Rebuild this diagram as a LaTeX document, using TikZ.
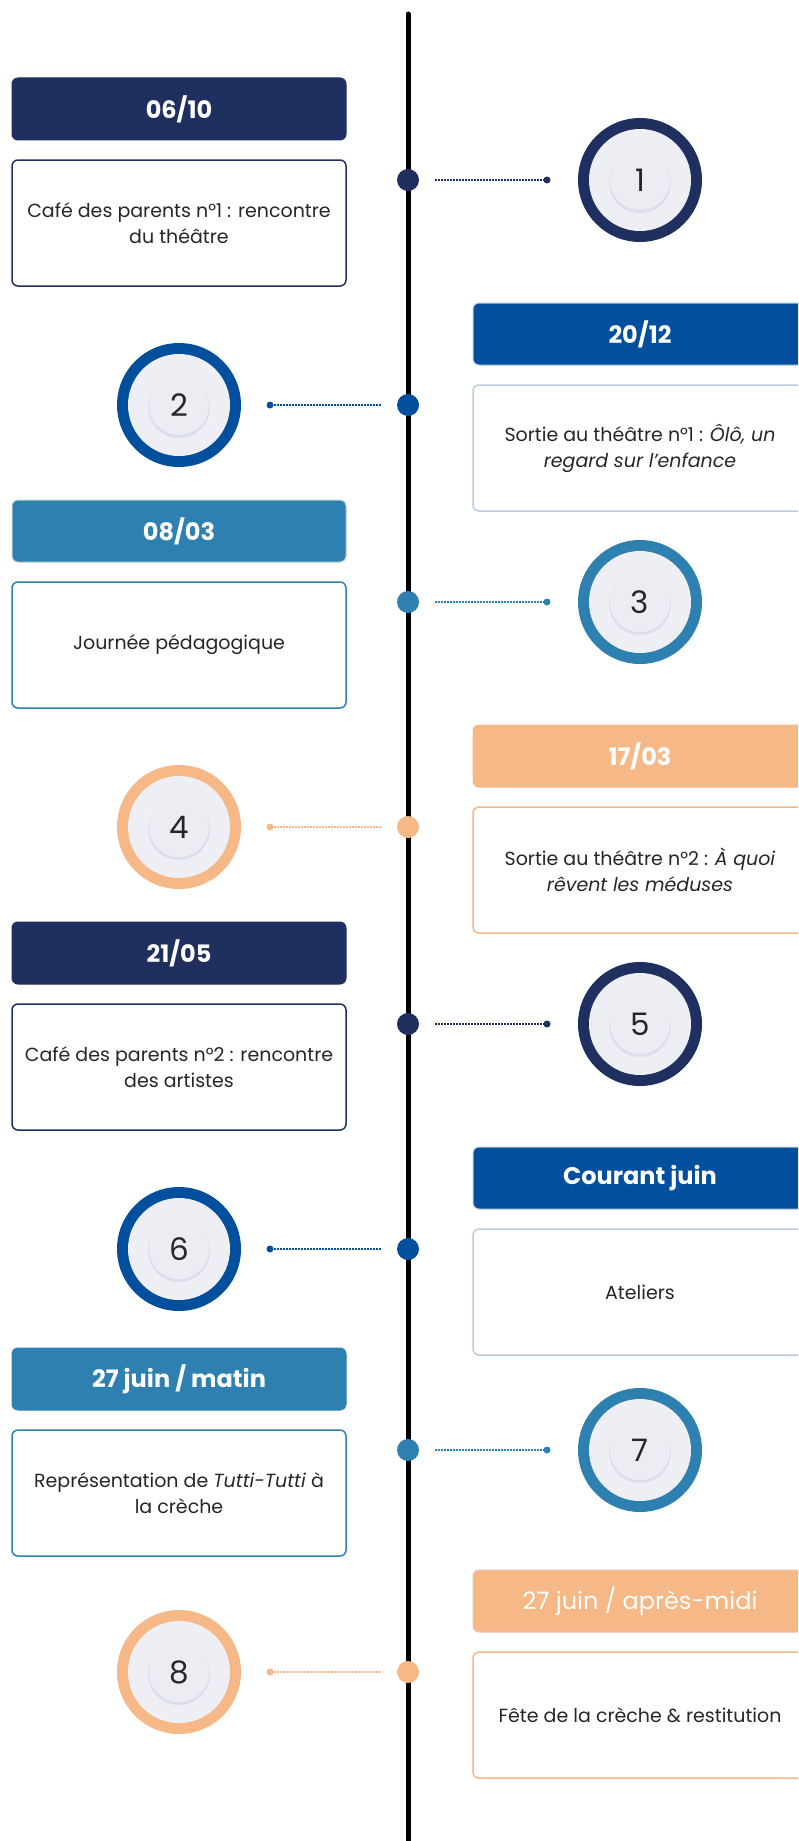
\documentclass[tikz,border=0pt]{standalone}
\usepackage{fontspec}
\setmainfont{Poppins}
\usepackage{xcolor}
\usepackage{tikz}

\definecolor{cNavy}{HTML}{1F3060}
\definecolor{cRoyal}{HTML}{024F9D}
\definecolor{cSky}{HTML}{2D80AF}
\definecolor{cPeach}{HTML}{F5B886}
\definecolor{cPale}{HTML}{B9CCE0}
\definecolor{cMint}{HTML}{B7D3C8}
\definecolor{cRose}{HTML}{F3BDB0}
\definecolor{cPlate}{HTML}{EEEFF4}
\definecolor{cPlateIn}{HTML}{ECEDF2}
\definecolor{cShade}{HTML}{DDDFE6}

\begin{document}
\begin{tikzpicture}[x=1pt,y=-1pt]
        \useasboundingbox (0,0) rectangle (798,1841);
        \clip (0,0) rectangle (798,1841);

        \tikzstyle{datebox}=[rounded corners=6pt,minimum width=334pt,minimum height=62pt,
            line width=1pt,text=white,font=\fontsize{24}{28}\selectfont\bfseries]
        \tikzstyle{textbox}=[draw,line width=1.5pt,rounded corners=6pt,fill=white,
            minimum width=334pt,minimum height=126pt,align=center,text=black!85,
            font=\fontsize{19}{26}\selectfont]
        \tikzstyle{tdot}=[circle,minimum size=22pt,inner sep=0pt]
        \tikzstyle{edot}=[circle,minimum size=7pt,inner sep=0pt]
        \tikzstyle{link}=[line width=1.8pt,dash pattern=on 1.6pt off 1.4pt,shorten <=16pt]
        \tikzstyle{disc}=[circle,minimum size=124pt,inner sep=0pt,fill=#1,text=black!85,
            font=\fontsize{31}{31}\selectfont,
            path picture={
                \fill[cPlate] (path picture bounding box.center) circle (51pt);
                \fill[cShade] ([yshift=-2pt]path picture bounding box.center) circle (31pt);
                \fill[cPlateIn] (path picture bounding box.center) circle (30pt);
            }]

        %% time line
        \coordinate (top) at (408,14);
        \coordinate (bottom) at (408,1850);
        \draw[line width=5pt,line cap=round] (top) -- (bottom);

        %% 06/10
        \begin{scope}[shift={(0,180)}]
            \node[datebox,fill=cNavy,draw=cNavy] (date1) at (179,-71) {06/10};
            \node[textbox,draw=cNavy] (note1) at (179,43) {Café des parents n°1 : rencontre\\du théâtre};
            \node[tdot,fill=cNavy] (dot1) at (408,0) {};
            \node[edot,fill=cNavy] (end1) at (547,0) {};
            \node[disc=cNavy] (disc1) at (640,0) {1};
            \draw[link,cNavy] (dot1) -- (end1);
        \end{scope}

        %% 20/12
        \begin{scope}[shift={(0,405)}]
            \node[datebox,fill=cRoyal,draw=cPale] (date2) at (640,-71) {20/12};
            \node[textbox,draw=cPale] (note2) at (640,43) {Sortie au théâtre n°1 : \textit{Ôlô, un}\\\textit{regard sur l’enfance}};
            \node[tdot,fill=cRoyal] (dot2) at (408,0) {};
            \node[edot,fill=cRoyal] (end2) at (270,0) {};
            \node[disc=cRoyal] (disc2) at (179,0) {2};
            \draw[link,cRoyal] (dot2) -- (end2);
        \end{scope}

        %% 08/03
        \begin{scope}[shift={(0,602)}]
            \node[datebox,fill=cSky,draw=cMint] (date3) at (179,-71) {08/03};
            \node[textbox,draw=cSky] (note3) at (179,43) {Journée pédagogique};
            \node[tdot,fill=cSky] (dot3) at (408,0) {};
            \node[edot,fill=cSky] (end3) at (547,0) {};
            \node[disc=cSky] (disc3) at (640,0) {3};
            \draw[link,cSky] (dot3) -- (end3);
        \end{scope}

        %% 17/03
        \begin{scope}[shift={(0,827)}]
            \node[datebox,fill=cPeach,draw=cPeach] (date4) at (640,-71) {17/03};
            \node[textbox,draw=cPeach] (note4) at (640,43) {Sortie au théâtre n°2 : \textit{À quoi}\\\textit{rêvent les méduses}};
            \node[tdot,fill=cPeach] (dot4) at (408,0) {};
            \node[edot,fill=cPeach] (end4) at (270,0) {};
            \node[disc=cPeach] (disc4) at (179,0) {4};
            \draw[link,cPeach] (dot4) -- (end4);
        \end{scope}

        %% 21/05
        \begin{scope}[shift={(0,1024)}]
            \node[datebox,fill=cNavy,draw=cNavy] (date5) at (179,-71) {21/05};
            \node[textbox,draw=cNavy] (note5) at (179,43) {Café des parents n°2 : rencontre\\des artistes};
            \node[tdot,fill=cNavy] (dot5) at (408,0) {};
            \node[edot,fill=cNavy] (end5) at (547,0) {};
            \node[disc=cNavy] (disc5) at (640,0) {5};
            \draw[link,cNavy] (dot5) -- (end5);
        \end{scope}

        %% courant juin
        \begin{scope}[shift={(0,1249)}]
            \node[datebox,fill=cRoyal,draw=cPale] (date6) at (640,-71) {Courant juin};
            \node[textbox,draw=cPale] (note6) at (640,43) {Ateliers};
            \node[tdot,fill=cRoyal] (dot6) at (408,0) {};
            \node[edot,fill=cRoyal] (end6) at (270,0) {};
            \node[disc=cRoyal] (disc6) at (179,0) {6};
            \draw[link,cRoyal] (dot6) -- (end6);
        \end{scope}

        %% 27 juin, matin
        \begin{scope}[shift={(0,1450)}]
            \node[datebox,fill=cSky,draw=cSky] (date7) at (179,-71) {27 juin / matin};
            \node[textbox,draw=cSky] (note7) at (179,43) {Représentation de \textit{Tutti-Tutti} à\\la crèche};
            \node[tdot,fill=cSky] (dot7) at (408,0) {};
            \node[edot,fill=cSky] (end7) at (547,0) {};
            \node[disc=cSky] (disc7) at (640,0) {7};
            \draw[link,cSky] (dot7) -- (end7);
        \end{scope}

        %% 27 juin, apres-midi
        \begin{scope}[shift={(0,1672)}]
            \node[datebox,fill=cPeach,draw=cRose,font=\fontsize{24}{28}\selectfont] (date8) at (640,-71) {27 juin / après-midi};
            \node[textbox,draw=cPeach] (note8) at (640,43) {Fête de la crèche \& restitution};
            \node[tdot,fill=cPeach] (dot8) at (408,0) {};
            \node[edot,fill=cPeach] (end8) at (270,0) {};
            \node[disc=cPeach] (disc8) at (179,0) {8};
            \draw[link,cPeach] (dot8) -- (end8);
        \end{scope}

    \end{tikzpicture}
\end{document}
